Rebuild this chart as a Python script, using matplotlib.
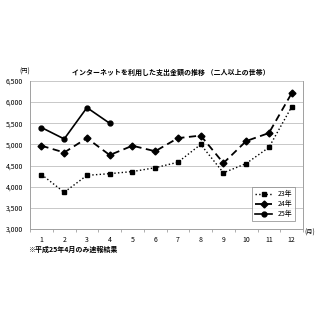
import matplotlib
matplotlib.use("Agg")
import matplotlib.pyplot as plt
import numpy as np

plt.rcParams['font.family'] = ['Noto Sans CJK JP', 'DejaVu Sans']

months = [1, 2, 3, 4, 5, 6, 7, 8, 9, 10, 11, 12]
month_labels = ["1", "2", "3", "4", "5", "6", "7", "8", "9", "10", "11", "12"]
y23 = [4290, 3870, 4270, 4310, 4360, 4450, 4580, 5000, 4330, 4550, 4930, 5890]
y24 = [4970, 4810, 5150, 4750, 4970, 4840, 5150, 5210, 4560, 5080, 5270, 6210]
months25 = [1, 2, 3, 4]
y25 = [5400, 5130, 5870, 5500]
yticks = [3000, 3500, 4000, 4500, 5000, 5500, 6000, 6500]
ytick_labels = ["3,000", "3,500", "4,000", "4,500", "5,000", "5,500", "6,000", "6,500"]

fig = plt.figure(figsize=(3.2, 3.2), dpi=100)
ax = fig.add_axes([0.094, 0.284, 0.853, 0.463])

ax.plot(months, y23, color='black', linestyle=':', linewidth=1.0, marker='s', markersize=3, label='23年')
ax.plot(months, y24, color='black', linestyle=(0, (4, 2.5)), linewidth=1.3, marker='D', markersize=3.5, label='24年')
ax.plot(months25, y25, color='black', linestyle='-', linewidth=1.2, marker='o', markersize=3.5, label='25年')

ax.set_xlim(0.5, 12.5)
ax.set_ylim(3000, 6500)
ax.set_xticks(months)
ax.set_xticklabels(month_labels, fontsize=5)
ax.set_xticks(np.arange(0.5, 13, 1.0), minor=True)
ax.tick_params(axis='x', which='minor', length=2.5, width=0.6, color='#a0a0a0', direction='out')
ax.set_yticks(yticks)
ax.set_yticklabels(ytick_labels, fontsize=5)
ax.tick_params(axis='both', which='major', length=0, pad=5)
ax.grid(axis='y', color='#c8c8c8', linewidth=0.7)
ax.set_axisbelow(True)
ax.spines['top'].set_visible(False)
for s in ['left', 'bottom', 'right']:
    ax.spines[s].set_color('#a0a0a0')
    ax.spines[s].set_linewidth(0.7)

leg = ax.legend(loc='lower right', fontsize=5, frameon=True, fancybox=False,
                edgecolor='#808080', handlelength=2.5, borderpad=0.4,
                labelspacing=0.3, bbox_to_anchor=(0.985, 0.03))
leg.get_frame().set_linewidth(0.6)

fig.text(0.535, 0.775, 'インターネットを利用した支出金額の推移 （二人以上の世帯）',
         ha='center', va='center', fontsize=5, fontweight='bold')
fig.text(0.078, 0.776, '(円)', ha='center', va='center', fontsize=4.5)
fig.text(0.968, 0.272, '(月)', ha='center', va='center', fontsize=4.5)
fig.text(0.088, 0.222, '※平成25年4月のみ速報結果', ha='left', va='center', fontsize=5, fontweight='bold')

fig.savefig('out.png', dpi=100)
